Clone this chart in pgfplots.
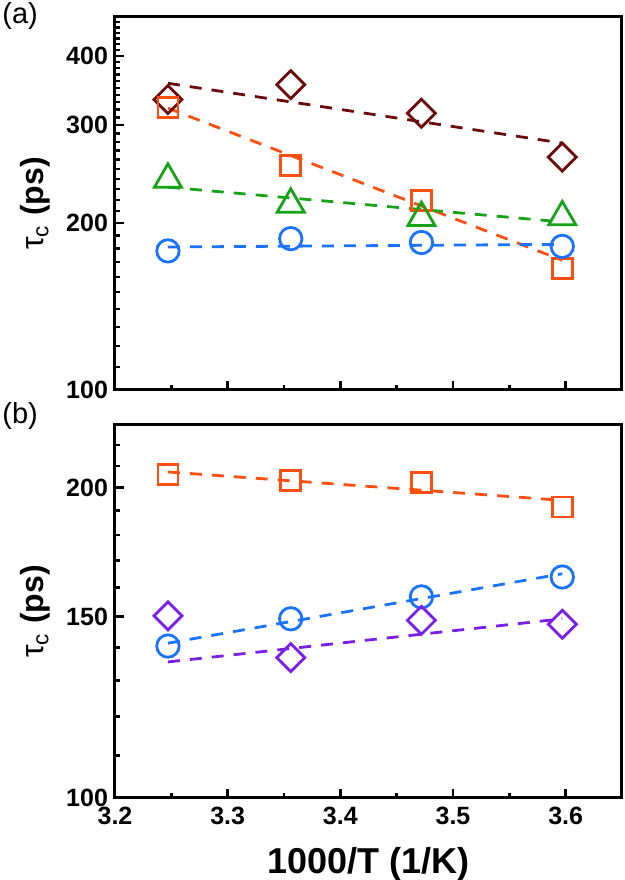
\documentclass[border=0pt]{standalone}
\usepackage{fontspec}
\setmainfont{Liberation Sans}
\usepackage{pgfplots}
\pgfplotsset{compat=1.18}
\definecolor{cmaroon}{HTML}{6B0A0A}
\definecolor{corange}{HTML}{FF4F10}
\definecolor{cgreen}{HTML}{17A317}
\definecolor{cblue}{HTML}{1A73FF}
\definecolor{cpurple}{HTML}{7A1FE8}
\begin{document}
\begin{tikzpicture}
\pgfplotsset{
  every axis/.append style={
    scale only axis, width=253.5pt, height=186.5pt,
    anchor=south west,
    xmin=3.2, xmax=3.65,
    axis line style={line width=1.5pt},
    tick align=inside,
    xtick pos=left, ytick pos=left,
    major tick length=4.5pt, minor tick length=2.5pt,
    every tick/.style={line width=1.2pt, black},
    xtick={3.2,3.3,3.4,3.5,3.6},
    minor x tick num=1,
    /pgf/number format/assume math mode=true,
    ticklabel style={font=\fontsize{12.5}{15}\selectfont\bfseries},
    xticklabel style={yshift=-1pt},
    ylabel={τ\textsubscript{c} \textbf{(ps)}},
    ylabel style={font=\fontsize{16}{19}\selectfont, at={(axis description cs:0,0.5)}, anchor=center, yshift=40pt},
    clip=false,
  },
}
\tikzset{
  fitline/.style={line width=1.4pt, dash pattern=on 6pt off 5pt},
}
% ---------------- top panel (a)
\begin{semilogyaxis}[at={(0,204pt)},
  ymin=100, ymax=470,
  ytick={100,200,300,400}, yticklabels={100,200,300,400},
  minor ytick={110,120,130,140,150,160,170,180,190,210,220,230,240,250,260,270,280,290,310,320,330,340,350,360,370,380,390,410,420,430,440,450,460},
  xticklabels={},
]
\addplot[cmaroon, fitline, no marks] coordinates {(3.247,357) (3.597,278.5)};
\addplot[corange, fitline, no marks] coordinates {(3.247,322) (3.597,171.3)};
\addplot[cgreen, fitline, no marks] coordinates {(3.247,232) (3.597,200.8)};
\addplot[cblue, fitline, no marks] coordinates {(3.247,181) (3.597,183)};
\addplot[cmaroon, only marks, mark=square, mark size=4.95pt, mark options={rotate=45, line width=1.4pt}] coordinates {(3.247,333.7) (3.356,355) (3.472,315.3) (3.597,262.8)};
\addplot[corange, only marks, mark=square, mark size=5pt, mark options={line width=1.4pt}] coordinates {(3.247,323.3) (3.356,254) (3.472,219.6) (3.597,165.5)};
\addplot[cgreen, only marks, mark=triangle, mark size=7.8pt, mark options={line width=1.4pt}] coordinates {(3.247,239.6) (3.356,216) (3.472,204.4) (3.597,205)};
\addplot[cblue, only marks, mark=o, mark size=5.6pt, mark options={line width=1.4pt}] coordinates {(3.247,178.1) (3.356,187.4) (3.472,184.4) (3.597,181.5)};
\end{semilogyaxis}
% ---------------- bottom panel (b)
\begin{semilogyaxis}[at={(0,0)},
  ymin=100, ymax=230,
  ytick={100,150,200}, yticklabels={100,150,200},
  minor ytick={110,120,130,140,160,170,180,190,210,220},
  xticklabels={3.2,3.3,3.4,3.5,3.6},
  xlabel={\textbf{1000/T (1/K)}},
  xlabel style={font=\fontsize{18}{21}\selectfont, at={(axis description cs:0.5,0)}, anchor=base, yshift=-38pt},
]
\addplot[corange, fitline, no marks] coordinates {(3.247,207.1) (3.597,194.4)};
\addplot[cblue, fitline, no marks] coordinates {(3.247,141.3) (3.597,165.0)};
\addplot[cpurple, fitline, no marks] coordinates {(3.247,135.5) (3.597,149.2)};
\addplot[corange, only marks, mark=square, mark size=5pt, mark options={line width=1.4pt}] coordinates {(3.247,206) (3.356,203) (3.472,202.4) (3.597,191.5)};
\addplot[cblue, only marks, mark=o, mark size=5.6pt, mark options={line width=1.4pt}] coordinates {(3.247,140.4) (3.356,149.2) (3.472,156.7) (3.597,163.8)};
\addplot[cpurple, only marks, mark=square, mark size=4.95pt, mark options={rotate=45, line width=1.4pt}] coordinates {(3.247,150.2) (3.356,136.8) (3.472,148.7) (3.597,147.4)};
\end{semilogyaxis}
\node[anchor=north west, inner sep=0pt, font=\fontsize{14.5}{17}\selectfont] at (-56.5pt,398pt) {(a)};
\node[anchor=north west, inner sep=0pt, font=\fontsize{14.5}{17}\selectfont] at (-56.5pt,198pt) {(b)};
\pgfresetboundingbox
\useasboundingbox (-57.5pt,-41pt) rectangle (255pt,399pt);
\end{tikzpicture}
\end{document}
